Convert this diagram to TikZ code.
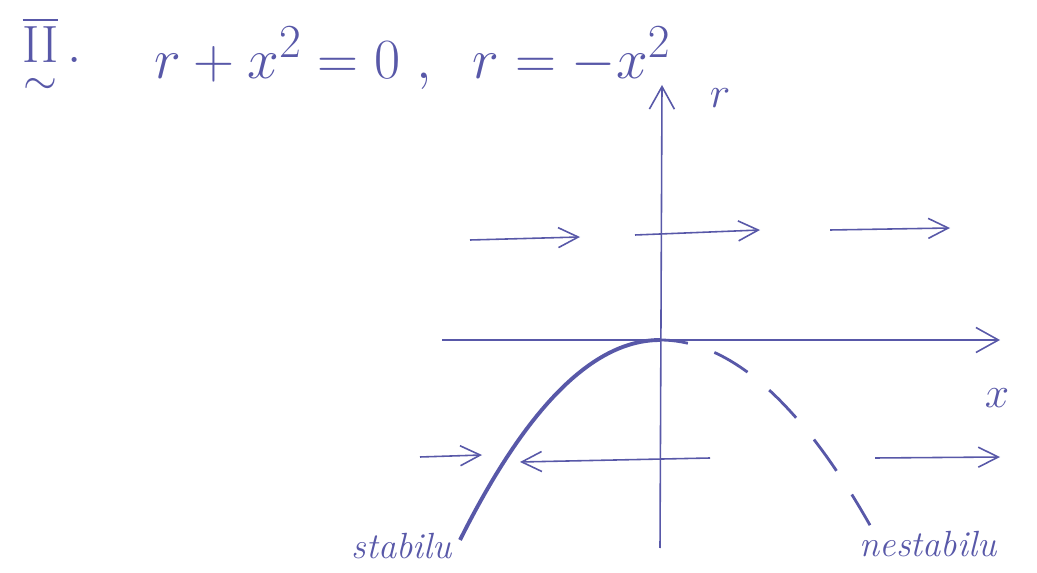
\documentclass[tikz,border=0pt]{standalone}
\usepackage{amsmath,amssymb}
\usepackage{tikz}
\usetikzlibrary{arrows.meta,positioning,calc}
\usepackage{xcolor}
\definecolor{ink}{RGB}{88,88,168}

\begin{document}
\begin{tikzpicture}[x=0.02cm,y=-0.02cm,font=\Huge,
  axis/.style={draw=ink,line width=0.9pt,-{Straight Barb[length=4.5mm,width=5mm]}},
  flow/.style={draw=ink,line width=0.9pt,-{Straight Barb[length=4mm,width=4mm]}},
  lbl/.style={text=ink,inner sep=1pt},
  branch/.style={draw=ink,line width=2.2pt}]
\useasboundingbox (0,0) rectangle (1037,573);
% title and equations
\node[lbl,scale=1.2] (num) at (52,58) {$\underset{\sim}{\overline{\mathrm{II}}}\,.$};
\node[lbl,anchor=west,scale=1.3] (eq) at (152,58) {$r+x^{2}=0\;,\;\; r=-x^{2}$};
% axes
\coordinate (r0) at (660,548);
\coordinate (r1) at (662,85);
\coordinate (x0) at (442,340);
\coordinate (x1) at (1000,340);
\draw[axis] (r0) -- (r1);
\draw[axis] (x0) -- (x1);
\node[lbl] (rlab) at (720,98) {$r$};
\node[lbl] (xlab) at (997,398) {$x$};
% branches of r = -x^2
\draw[branch] plot[domain=-200:0,samples=40] ({660+\x},{340+(0.07071*\x)^2});
\draw[branch,line width=1.6pt,dash pattern=on 22pt off 16pt,dash phase=6pt]
  plot[domain=0:210,samples=40] ({660+\x},{340+(0.0648*\x)^2});
\node[lbl,font=\huge\itshape] (stab) at (402,546) {stabilu};
\node[lbl,font=\huge\itshape] (nstab) at (928,544) {nestabilu};
% flow above the turning point
\coordinate (a1) at (470,240);
\coordinate (a2) at (580,237);
\coordinate (b1) at (635,235);
\coordinate (b2) at (760,230);
\coordinate (c1) at (830,230);
\coordinate (c2) at (950,228);
\draw[flow] (a1) -- (a2);
\draw[flow] (b1) -- (b2);
\draw[flow] (c1) -- (c2);
% flow below
\coordinate (d1) at (420,457);
\coordinate (d2) at (482,455);
\coordinate (e1) at (710,458);
\coordinate (e2) at (520,462);
\coordinate (f1) at (875,458);
\coordinate (f2) at (1000,457);
\draw[flow] (d1) -- (d2);
\draw[flow] (e1) -- (e2);
\draw[flow] (f1) -- (f2);
\end{tikzpicture}
\end{document}
